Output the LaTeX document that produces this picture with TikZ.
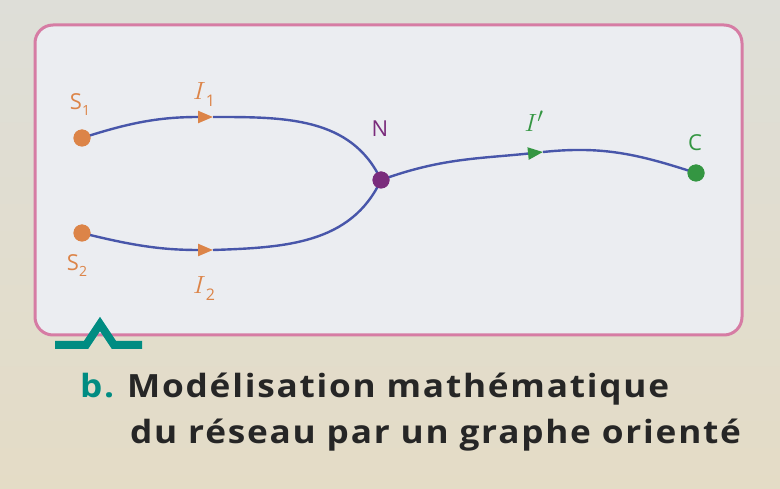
\documentclass[tikz,border=0pt]{standalone}
\usepackage{fontspec}
\setmainfont{Open Sans}
\newfontfamily\capfont{Open Sans}[FakeStretch=1.1,LetterSpace=5.5]
\usetikzlibrary{arrows.meta}
\definecolor{bgtop}{RGB}{222,222,216}
\definecolor{bgbot}{RGB}{228,220,198}
\definecolor{boxfill}{RGB}{235,237,241}
\definecolor{boxpink}{RGB}{214,124,164}
\definecolor{edgeblue}{RGB}{72,86,170}
\definecolor{srcorange}{RGB}{220,132,72}
\definecolor{nodepurple}{RGB}{122,44,124}
\definecolor{sinkgreen}{RGB}{52,150,66}
\definecolor{capteal}{RGB}{0,140,130}
\definecolor{captext}{RGB}{38,38,38}
\tikzset{
  vertex/.style={circle,inner sep=0pt,minimum size=17pt,fill=#1},
  edge/.style={draw=edgeblue,line width=2.4pt},
  lbl/.style={inner sep=0pt,font=\fontsize{22}{22}\selectfont},
  ilbl/.style={inner sep=0pt},
  captxt/.style={inner sep=0pt,anchor=base west,font=\capfont\fontsize{32}{32}\selectfont\bfseries,text=captext},
  tipo/.style={-{Triangle[length=15pt,width=12pt,fill=#1,color=#1]}}
}
\newcommand{\Ilab}[1]{{\fontsize{28}{28}\selectfont$I$}\raisebox{-7pt}{\fontsize{16}{16}\selectfont #1}}
\newcommand{\Slab}[1]{S\raisebox{-6pt}{\fontsize{14}{14}\selectfont #1}}
\begin{document}
\begin{tikzpicture}[x=1pt,y=1pt]
\useasboundingbox (0,0) rectangle (780,488);
\shade[top color=bgtop,bottom color=bgbot] (0,0) rectangle (780,488);
\draw[draw=boxpink,fill=boxfill,line width=3pt,rounded corners=18pt] (35,153) rectangle (742,463);
% vertices
\node[vertex=srcorange] (s1) at (82,350) {};
\node[vertex=srcorange] (s2) at (82,255) {};
\node[vertex=nodepurple] (n) at (381,308) {};
\node[vertex=sinkgreen] (c) at (696,315) {};
\coordinate (m1) at (213,371);
\coordinate (m2) at (213,238);
\coordinate (m3) at (543,336);
% edges
\draw[edge,tipo=srcorange] (s1.center) to[out=18,in=180] (m1);
\draw[edge] (m1) to[out=0,in=115] (n.center);
\draw[edge,tipo=srcorange] (s2.center) to[out=-14,in=180] (m2);
\draw[edge] (m2) to[out=2,in=245] (n.center);
\draw[edge,tipo=sinkgreen] (n.center) to[out=20,in=186] (m3);
\draw[edge] (m3) to[out=6,in=162] (c.center);
% redraw vertices on top
\node[vertex=srcorange] at (s1) {};
\node[vertex=srcorange] at (s2) {};
\node[vertex=nodepurple] at (n) {};
\node[vertex=sinkgreen] at (c) {};
% labels
\node[lbl,text=srcorange] (ls1) at (80,383) {\Slab{1}};
\node[lbl,text=srcorange] (ls2) at (77,222) {\Slab{2}};
\node[ilbl,text=srcorange] (li1) at (204,393) {\Ilab{1}};
\node[ilbl,text=srcorange] (li2) at (204,199) {\Ilab{2}};
\node[lbl,text=nodepurple] (ln) at (380,359) {N};
\node[ilbl,text=sinkgreen] (lip) at (534,367) {\fontsize{28}{28}\selectfont$I'$};
\node[lbl,text=sinkgreen] (lc) at (695,345) {C};
% teal mark
\draw[capteal,line width=8pt,miter limit=10] (55,143) -- (86,143) -- (100,164) -- (114,143) -- (142,143);
% caption
\node[captxt,text=capteal] (capb) at (80,91) {b.};
\node[captxt] (cap1) at (127,91) {Modélisation mathématique};
\node[captxt] (cap2) at (130,45) {du réseau par un graphe orienté};
\end{tikzpicture}
\end{document}
